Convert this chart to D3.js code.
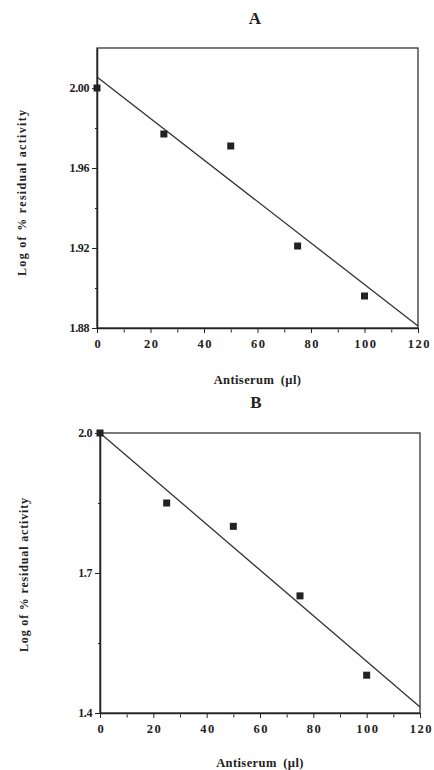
<!DOCTYPE html>
<html>
<head>
<meta charset="utf-8">
<script src="https://cdn.jsdelivr.net/npm/d3@7"></script>
<style>
    body { margin: 0; background: #fff; }
    svg text { font-family: "Liberation Serif", "Times New Roman", serif; font-weight: bold; fill: #222; }
    .axis path, .axis line { stroke: #222; }
</style>
</head>
<body>
<script>
'use strict';

// antiserum volumes (µl)
var antiserum = [0, 25, 50, 75, 100];

// panel A: log of % residual activity
var logActivityA = [2.000, 1.977, 1.971, 1.921, 1.896];
// panel B
var logActivityB = [2.000, 1.850, 1.800, 1.651, 1.481];

// fitted lines, value at x = 0 and x = 120
var fitX = [0, 120];
var fitA = [2.0055, 1.881];
var fitB = [2.000, 1.413];

var xTicks = [0, 20, 40, 60, 80, 100, 120];
var xMinorTicks = [10, 30, 50, 70, 90, 110];
var yTicksA = [1.88, 1.92, 1.96, 2.00];
var yMinorTicksA = [1.90, 1.94, 1.98];
var yTicksB = [1.4, 1.7, 2.0];
var yMinorTicksB = [1.55, 1.85];

var width = 434;
var height = 770;

var svg = d3.select('body').append('svg')
    .attr('width', width)
    .attr('height', height);

function drawPanel(p) {
    var x = d3.scaleLinear().domain([0, 120]).range([p.left, p.right]);
    var y = d3.scaleLinear().domain(p.yDomain).range([p.bottom, p.top]);
    var g = svg.append('g');

    // box
    g.append('rect')
        .attr('x', p.left)
        .attr('y', p.top)
        .attr('width', p.right - p.left)
        .attr('height', p.bottom - p.top)
        .attr('fill', 'none')
        .attr('stroke', '#333')
        .attr('stroke-width', 1.3);

    // x axis
    var xAxis = g.append('g')
        .attr('class', 'axis')
        .attr('transform', 'translate(0,' + p.bottom + ')')
        .call(d3.axisBottom(x).tickValues(xTicks).tickSize(5).tickSizeOuter(0).tickPadding(6));
    xAxis.selectAll('path').attr('stroke-width', 1.5);
    xAxis.selectAll('text')
        .style('font-size', '12.5px')
        .style('letter-spacing', '1.5px')
        .attr('dx', '0.75px');

    g.append('g')
        .attr('class', 'axis')
        .attr('transform', 'translate(0,' + (p.bottom + 1.5) + ')')
        .call(d3.axisBottom(x).tickValues(xMinorTicks).tickSize(3).tickSizeOuter(0).tickFormat(''))
        .select('path').remove();

    // y axis
    var yAxis = g.append('g')
        .attr('class', 'axis')
        .attr('transform', 'translate(' + p.left + ',0)')
        .call(d3.axisLeft(y).tickValues(p.yTicks).tickSize(5).tickSizeOuter(0).tickPadding(3)
            .tickFormat(d3.format(p.yFormat)));
    yAxis.selectAll('path').attr('stroke-width', 1.5);
    yAxis.selectAll('text')
        .style('font-size', '12px')
        .style('letter-spacing', '-0.4px');

    g.append('g')
        .attr('class', 'axis')
        .attr('transform', 'translate(' + (p.left + 1) + ',0)')
        .call(d3.axisLeft(y).tickValues(p.yMinorTicks).tickSize(3).tickSizeOuter(0).tickFormat(''))
        .select('path').remove();

    // fitted line
    g.append('line')
        .attr('x1', x(fitX[0]))
        .attr('y1', y(p.fit[0]))
        .attr('x2', x(fitX[1]))
        .attr('y2', y(p.fit[1]))
        .attr('stroke', '#333')
        .attr('stroke-width', 1.3);

    // points
    g.selectAll('.pt')
        .data(antiserum.map(function (d, i) { return [d, p.values[i]]; }))
        .enter().append('rect')
        .attr('class', 'pt')
        .attr('x', function (d) { return x(d[0]) - 3.5; })
        .attr('y', function (d) { return y(d[1]) - 3.5; })
        .attr('width', 7)
        .attr('height', 7)
        .attr('fill', '#222');

    // panel letter
    g.append('text')
        .attr('x', p.titleX)
        .attr('y', p.titleY)
        .attr('text-anchor', 'middle')
        .style('font-size', '17px')
        .text(p.title);

    // x label
    g.append('text')
        .attr('x', (p.left + p.right) / 2)
        .attr('y', p.xLabelY)
        .attr('text-anchor', 'middle')
        .style('font-size', '12.5px')
        .style('letter-spacing', '0.4px')
        .style('word-spacing', '3px')
        .text('Antiserum (\u00b5l)');

    // y label
    g.append('text')
        .attr('transform', 'translate(' + p.yLabelX + ',' + p.yLabelY + ') rotate(-90)')
        .attr('text-anchor', 'middle')
        .attr('dy', '0.35em')
        .attr('textLength', p.yLabelLength)
        .attr('lengthAdjust', 'spacing')
        .style('font-size', '12px')
        .text('Log of % residual activity');
}

drawPanel({
    title: 'A', titleX: 255, titleY: 24,
    left: 97, right: 418, top: 48, bottom: 328,
    yDomain: [1.88, 2.02], yTicks: yTicksA, yMinorTicks: yMinorTicksA, yFormat: '.2f',
    values: logActivityA, fit: fitA,
    xLabelY: 384, yLabelX: 22, yLabelY: 193, yLabelLength: 166
});

drawPanel({
    title: 'B', titleX: 256, titleY: 408,
    left: 100, right: 420, top: 433, bottom: 713,
    yDomain: [1.4, 2.0], yTicks: yTicksB, yMinorTicks: yMinorTicksB, yFormat: '.1f',
    values: logActivityB, fit: fitB,
    xLabelY: 767, yLabelX: 24, yLabelY: 575, yLabelLength: 154
});
</script>
</body>
</html>
